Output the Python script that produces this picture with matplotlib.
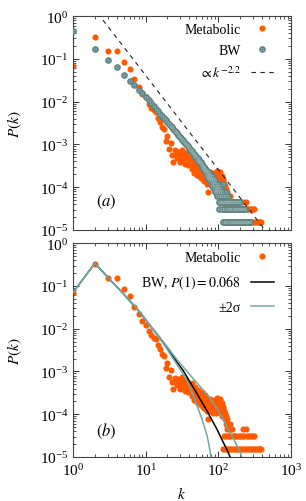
import numpy as np
import matplotlib
matplotlib.use("Agg")
import matplotlib.pyplot as plt
from matplotlib.legend_handler import HandlerTuple

plt.rcParams['font.family'] = 'serif'
plt.rcParams['font.serif'] = ['Liberation Serif', 'DejaVu Serif']
plt.rcParams['mathtext.fontset'] = 'stix'
plt.rcParams['font.size'] = 10

# number of nodes -> one count is 1/N
N = 66000

# Metabolic network degree distribution
met_k_head = list(range(1, 41))
met_p_head = [0.068, 0.33, 0.15, 0.15, 0.085, 0.057, 0.033, 0.022, 0.0150, 0.0125,
              0.0088, 0.0072, 0.0062, 0.0057, 0.0042, 0.0033, 0.0026, 0.0023, 0.0012, 0.0016,
              7.6e-4, 1.1e-3, 5.6e-4, 3.9e-4, 7.2e-4, 6.1e-4, 4.8e-4, 6.8e-4, 5.2e-4, 3.9e-4,
              6.0e-4, 7.4e-4, 4.4e-4, 5.5e-4, 3.5e-4, 6.3e-4, 4.6e-4, 3.3e-4, 5.0e-4, 4.0e-4]
met_k_tail = [41, 42, 43, 44, 45, 46, 47, 48, 49, 50, 51, 52, 53, 54, 55, 56, 57, 58, 59, 60,
              61, 62, 63, 64, 65, 66, 67, 68, 69, 70, 71, 72, 73, 74, 75, 76, 77, 78, 79, 80,
              82, 83, 84, 85, 86, 88, 89, 90, 91, 93, 94, 95, 96, 98, 99, 100, 102, 104, 105, 106,
              108, 109, 110, 111, 112, 113, 114, 115, 116, 118, 120, 121, 123, 125, 127, 129, 131, 134, 137, 141,
              146, 150, 156, 220, 240]
met_c_tail = [30, 22, 35, 18, 26, 20, 14, 28, 17, 22, 13, 24, 16, 19, 12, 21, 15, 11, 18, 22,
              14, 10, 17, 9, 13, 19, 11, 15, 8, 12, 16, 10, 5, 13, 9, 14, 11, 15, 8, 12,
              10, 14, 7, 11, 13, 9, 12, 8, 14, 10, 7, 12, 16, 9, 11, 13, 8, 10, 15, 12,
              7, 10, 9, 12, 11, 6, 8, 10, 7, 9, 6, 8, 5, 7, 4, 6, 5, 3, 4, 3,
              4, 3, 3, 3, 3]
met_k_two = [119, 124, 132, 139, 147, 158, 165, 172, 181, 190, 199, 208, 218, 228, 245, 258,
             270, 284, 298, 312]
met_k_one = [117, 122, 128, 135, 143, 152, 161, 169, 177, 186, 195, 204, 213, 223, 233, 250,
             264, 277, 291, 305, 320, 335, 350, 365, 378, 389]

# BW model (panel a)
bw_k_head = list(range(1, 31))
bw_p_head = [0.45, 0.17, 0.092, 0.063, 0.043, 0.031, 0.024, 0.019, 0.0155, 0.0128,
             0.0108, 0.0092, 0.0079, 0.0068, 0.0060, 0.0052, 0.0046, 0.0041, 0.0037, 0.0033,
             0.0030, 0.0027, 0.0025, 0.0023, 0.0021, 0.0019, 0.0018, 0.0017, 0.0016, 0.0015]
bw_k_tail = [31, 32, 33, 34, 35, 36, 37, 38, 39, 40, 41, 42, 43, 44, 45, 46, 47, 48, 49, 50,
             51, 52, 53, 54, 55, 56, 57, 58, 59, 60, 61, 62, 63, 64, 65, 66, 67, 68, 69, 70,
             71, 72, 73, 74, 75, 76, 77, 78, 79, 80, 81, 82, 83, 84, 85, 86, 87, 88, 89, 90,
             91, 92, 93, 94, 95, 96, 97, 98, 99, 100, 102, 104, 105, 107, 108, 110, 112, 114, 116, 117,
             122, 125, 128, 132, 136, 140]
bw_c_tail = [95, 84, 82, 76, 70, 66, 63, 60, 55, 54, 50, 49, 44, 46, 41, 40, 36, 37, 33, 34,
             30, 31, 27, 29, 25, 26, 22, 25, 20, 23, 19, 21, 17, 20, 16, 18, 14, 17, 13, 16,
             12, 15, 11, 14, 10, 13, 9, 12, 10, 11, 8, 12, 7, 10, 9, 6, 10, 8, 5, 9,
             7, 6, 8, 5, 7, 6, 4, 8, 5, 6, 4, 7, 3, 5, 4, 6, 3, 5, 4, 8,
             4, 3, 5, 3, 4, 3]
bw_k_three = [101, 109, 119, 127, 135, 143, 150, 158, 166, 174, 183, 192, 200]
bw_k_two = [103, 113, 121, 131, 139, 147, 155, 163, 171, 180, 188, 197, 206, 215, 225, 235]
bw_k_one = [115, 123, 129, 137, 145, 153, 161, 169, 178, 186, 195, 204, 212, 220, 230, 240,
            250, 262, 275]

# BW analytic curve and +-2 sigma band (panel b)
curve_k = [1, 2, 3, 5, 8, 12, 18, 27, 33, 40, 50, 60, 70, 78, 95, 110, 130, 150]
curve_p = [0.07, 0.34, 0.16, 0.064, 0.026, 0.0109, 0.0044, 0.00166, 1.04e-3, 6.0e-4,
           3.2e-4, 1.87e-4, 1.2e-4, 8.5e-5, 4.6e-5, 2.74e-5, 1.55e-5, 9e-6]
low_k = [1, 2, 3, 5, 8, 12, 18, 25, 33, 40, 51, 60, 70, 76, 80]
low_p = [0.07, 0.34, 0.16, 0.064, 0.026, 0.0106, 0.0042, 0.0018, 8.5e-4, 4.7e-4,
         1.6e-4, 7.5e-5, 3.2e-5, 1.6e-5, 9e-6]
up_k = [1, 2, 3, 5, 8, 12, 18, 27, 36, 46, 60, 78, 100, 130, 160, 200, 215]
up_p = [0.07, 0.34, 0.16, 0.065, 0.027, 0.0112, 0.0047, 0.0019, 1.07e-3, 6.6e-4,
        3.9e-4, 2.3e-4, 1.23e-4, 5.4e-5, 2.8e-5, 1.3e-5, 9e-6]

# power-law guide
slope = -2.2
guide_c = 6.5

orange = '#ff5a00'
teal = '#5e8383'
teal_line = '#74a6a6'


def counts_to_p(c):
    return np.asarray(c, dtype=float) / N


met_k = np.array(met_k_head + met_k_tail + met_k_two + met_k_one)
met_p = np.concatenate([met_p_head, counts_to_p(met_c_tail),
                        np.full(len(met_k_two), 2.0 / N), np.full(len(met_k_one), 1.0 / N)])
bw_k = np.array(bw_k_head + bw_k_tail + bw_k_three + bw_k_two + bw_k_one)
bw_p = np.concatenate([bw_p_head, counts_to_p(bw_c_tail), np.full(len(bw_k_three), 3.0 / N),
                       np.full(len(bw_k_two), 2.0 / N), np.full(len(bw_k_one), 1.0 / N)])

fig = plt.figure(figsize=(3.06, 5.02), dpi=100)
ax1 = fig.add_axes([0.2386, 0.540, 0.712, 0.426])
ax2 = fig.add_axes([0.2386, 0.0876, 0.712, 0.426])

for ax in (ax1, ax2):
    ax.set_xscale('log')
    ax.set_yscale('log')
    ax.set_xlim(1, 1000)
    ax.set_ylim(1e-5, 1)
    ax.tick_params(which='both', direction='in', top=True, right=True, colors='#333333',
                   labelcolor='black', labelsize=11)
    ax.tick_params(which='major', length=4, width=0.7)
    ax.tick_params(which='minor', length=2, width=0.6)
    for s in ax.spines.values():
        s.set_color('#444444')
        s.set_linewidth(0.8)
    ax.set_ylabel(r'$P(k)$', fontsize=11, labelpad=11)

leg_kw = dict(loc='upper right', frameon=False, markerfirst=False, handlelength=1.7,
              handletextpad=0.7, borderaxespad=0.8, fontsize=10)

# panel (a)
h_met, = ax1.plot(met_k, met_p, 'o', ms=4.4, mfc=orange, mec=orange, mew=0, ls='none', zorder=2)
h_bw1, = ax1.plot(bw_k, bw_p, 'o', ms=4.8, mfc=teal, mec=teal, mew=0, ls='none', zorder=3)
h_bw2, = ax1.plot(bw_k, bw_p, 'o', ms=1.9, mfc='none', mec='#93b0b0', mew=0.45, ls='none', zorder=4)
kk = np.logspace(0, 3, 200)
h_guide, = ax1.plot(kk, guide_c * kk ** slope, color='#222222', lw=0.8, ls=(0, (4, 4)), zorder=5)
ax1.legend([h_met, (h_bw1, h_bw2), h_guide], ['Metabolic', 'BW', r'$\propto k^{-2.2}$'],
           handler_map={tuple: HandlerTuple(ndivide=1, pad=0)},
           bbox_to_anchor=(1.0, 1.045), labelspacing=0.55, **leg_kw)
ax1.tick_params(labelbottom=False)
ax1.text(0.155, 0.135, r'$(a)$', transform=ax1.transAxes, fontsize=12, ha='center', va='center')

# panel (b)
h_met_b, = ax2.plot(met_k, met_p, 'o', ms=4.4, mfc=orange, mec=orange, mew=0, ls='none', zorder=2)
h_curve, = ax2.plot(curve_k, curve_p, color='black', lw=1.1, zorder=3)
h_low, = ax2.plot(low_k, low_p, color=teal_line, lw=1.1, zorder=4)
ax2.plot(up_k, up_p, color=teal_line, lw=1.1, zorder=4)
ax2.legend([h_met_b, h_curve, h_low], ['Metabolic', r'BW, $P(1) = 0.068$', '±2σ'],
           bbox_to_anchor=(1.0, 1.04), labelspacing=0.7, **leg_kw)
ax2.set_xlabel(r'$k$', fontsize=11, labelpad=5)
ax2.text(0.155, 0.123, r'$(b)$', transform=ax2.transAxes, fontsize=12, ha='center', va='center')

fig.savefig('out.png', dpi=100)
